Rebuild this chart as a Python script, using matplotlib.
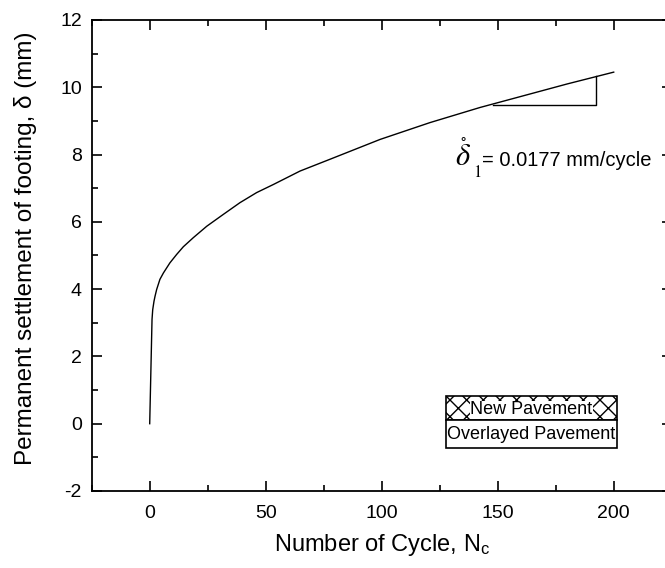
import matplotlib.pyplot as plt
from matplotlib.patches import Rectangle
from matplotlib.ticker import MultipleLocator

plt.rcParams['font.family'] = ['Liberation Sans', 'DejaVu Sans']
plt.rcParams['mathtext.fontset'] = 'stix'
plt.rcParams['axes.unicode_minus'] = False

# settlement curve
cycles = [0, 1.0, 1.3, 1.85, 2.3, 3.0, 4.4, 5.9, 8.7, 11.6, 14.5, 18.8, 24.6,
          31.7, 38.9, 46.1, 53.3, 64.8, 77.7, 99.3, 120.8, 142.4, 159.6, 180, 200]
settlement = [0, 3.1, 3.39, 3.64, 3.79, 3.99, 4.29, 4.48, 4.78, 5.03, 5.26,
              5.53, 5.87, 6.22, 6.57, 6.87, 7.11, 7.51, 7.86, 8.45, 8.95, 9.40,
              9.72, 10.1, 10.45]

# slope triangle
tri_x = [147.8, 192.4, 192.4]
tri_y = [9.47, 9.47, 10.33]

legend_labels = ['New Pavement', 'Overlayed Pavement']

fig = plt.figure(figsize=(6.65, 5.68), dpi=100)
ax = fig.add_axes([0.1379, 0.1356, 0.8722, 0.8292])

ax.plot(cycles, settlement, color='black', lw=1.0)
ax.plot(tri_x, tri_y, color='black', lw=1.0)

ax.set_xlim(-25, 225)
ax.set_ylim(-2, 12)
ax.xaxis.set_major_locator(MultipleLocator(50))
ax.xaxis.set_minor_locator(MultipleLocator(25))
ax.yaxis.set_major_locator(MultipleLocator(2))
ax.yaxis.set_minor_locator(MultipleLocator(1))
ax.tick_params(which='both', direction='in', top=True, right=True, labelsize=14, width=1.2)
ax.tick_params(which='major', length=7)
ax.tick_params(which='minor', length=4)
ax.tick_params(axis='x', which='major', pad=10)
ax.tick_params(axis='y', which='major', pad=7)
for s in ax.spines.values():
    s.set_linewidth(1.3)

ax.set_xlabel('Number of Cycle, N$_{\\mathregular{c}}$', fontsize=17)
ax.set_ylabel('Permanent settlement of footing, \u03b4 (mm)', fontsize=17.5)
ax.xaxis.set_label_coords(0.5, -0.088)
ax.xaxis.label.set_va('top')
ax.yaxis.set_label_coords(-0.094, 0.515)

# slope annotation: delta with ring, small subscript, then the value
ax.text(131.6, 7.65, r'$\mathring{\delta}$', fontsize=22, va='baseline')
ax.text(139.4, 7.33, r'$\mathrm{1}$', fontsize=12, va='baseline')
ax.text(143.2, 7.65, '= 0.0177 mm/cycle', fontsize=14.5, va='baseline')

# legend-like box
ax.add_patch(Rectangle((0.611, 0.1507), 0.294, 0.0516, transform=ax.transAxes,
                       facecolor='white', edgecolor='black', hatch='xx', lw=1.2))
ax.add_patch(Rectangle((0.611, 0.0919), 0.294, 0.0588, transform=ax.transAxes,
                       facecolor='white', edgecolor='black', lw=1.2))
ax.text(0.758, 0.172, legend_labels[0], transform=ax.transAxes, fontsize=13,
        ha='center', va='center',
        bbox=dict(facecolor='white', edgecolor='none', pad=0.3))
ax.text(0.758, 0.119, legend_labels[1], transform=ax.transAxes, fontsize=13,
        ha='center', va='center')

fig.savefig('out.png', dpi=100)
